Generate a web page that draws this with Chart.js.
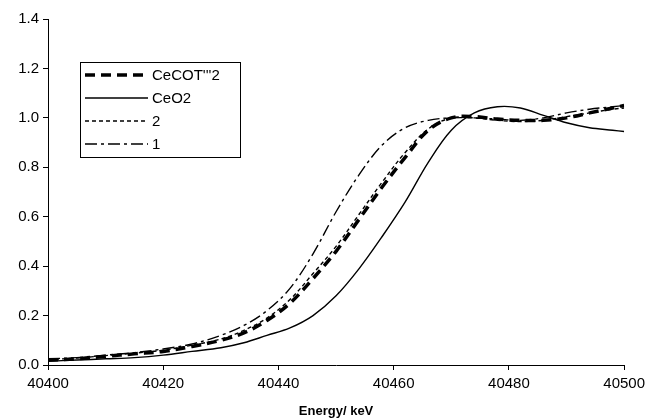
<!DOCTYPE html>
<html>
<head>
<meta charset="utf-8">
<script src="https://cdn.jsdelivr.net/npm/chart.js@4"></script>
<style>
  html, body { margin: 0; padding: 0; background: #fff; }
  #wrap { width: 650px; height: 420px; }
</style>
</head>
<body>
<div id="wrap"><canvas id="chart"></canvas></div>
<script>
// energies in eV (axis reads keV in the original)
const energies = [40400, 40405, 40410, 40415, 40420, 40425, 40430, 40434, 40438, 40442, 40446, 40450,
  40454, 40458, 40462, 40466, 40470, 40474, 40478, 40482, 40486, 40490, 40494, 40498, 40500]

const cecot2 = [0.02, 0.025, 0.035, 0.045, 0.055, 0.075, 0.10, 0.13, 0.18, 0.25, 0.35, 0.46,
  0.59, 0.72, 0.84, 0.95, 1.00, 1.005, 0.995, 0.99, 0.99, 1.00, 1.02, 1.04, 1.05]
const ceo2 = [0.015, 0.02, 0.025, 0.03, 0.04, 0.055, 0.07, 0.09, 0.12, 0.15, 0.20, 0.28,
  0.39, 0.52, 0.66, 0.82, 0.95, 1.02, 1.045, 1.04, 1.01, 0.98, 0.96, 0.95, 0.945]
const series2 = [0.022, 0.028, 0.038, 0.048, 0.06, 0.08, 0.105, 0.14, 0.19, 0.265, 0.37, 0.48,
  0.61, 0.74, 0.86, 0.955, 1.00, 1.00, 0.99, 0.985, 0.99, 1.005, 1.02, 1.035, 1.04]
const series1 = [0.025, 0.03, 0.04, 0.05, 0.065, 0.085, 0.12, 0.16, 0.22, 0.31, 0.45, 0.62,
  0.77, 0.89, 0.96, 0.99, 1.00, 1.00, 0.995, 0.99, 1.00, 1.02, 1.035, 1.045, 1.05]

const seriesNames = ["CeCOT'''2", "CeO2", "2", "1"]
const xTicks = [40400, 40420, 40440, 40460, 40480, 40500]
const yTicks = [0, 0.2, 0.4, 0.6, 0.8, 1.0, 1.2, 1.4]

const pts = (vals) => energies.map((e, i) => ({ x: e, y: vals[i] }))
const FONT = "'Liberation Sans', Arial, sans-serif"

const styles = [
  { borderWidth: 3.5, borderDash: [10, 6] },
  { borderWidth: 1.4, borderDash: [] },
  { borderWidth: 1.4, borderDash: [4, 3] },
  { borderWidth: 1.4, borderDash: [12, 4, 3, 4] },
]

// hand drawn legend box, like the spreadsheet one
const boxLegend = {
  id: "boxLegend",
  afterDraw(chart) {
    const ctx = chart.ctx
    const left = 80, top = 62, w = 160, rowH = 23
    ctx.save()
    ctx.fillStyle = "#fff"
    ctx.fillRect(left, top, w, rowH * 4 + 3)
    ctx.strokeStyle = "#000"
    ctx.lineWidth = 1
    ctx.setLineDash([])
    ctx.strokeRect(left + 0.5, top + 0.5, w, rowH * 4 + 3)
    ctx.font = "15px " + FONT
    ctx.textBaseline = "middle"
    ctx.fillStyle = "#000"
    seriesNames.forEach((name, i) => {
      const y = top + 13 + i * rowH
      ctx.beginPath()
      ctx.lineWidth = styles[i].borderWidth
      ctx.setLineDash(styles[i].borderDash)
      ctx.moveTo(85, y)
      ctx.lineTo(148, y)
      ctx.stroke()
      ctx.setLineDash([])
      ctx.fillText(name, 152, y + 1)
    })
    ctx.restore()
  },
}

const ctx = document.getElementById("chart").getContext("2d")
new Chart(ctx, {
  type: "line",
  data: {
    datasets: [cecot2, ceo2, series2, series1].map((vals, i) => ({
      label: seriesNames[i],
      data: pts(vals),
      borderColor: "#000",
      borderWidth: styles[i].borderWidth,
      borderDash: styles[i].borderDash,
      pointRadius: 0,
      tension: 0.35,
      fill: false,
    })),
  },
  options: {
    responsive: true,
    maintainAspectRatio: false,
    animation: false,
    devicePixelRatio: 1,
    layout: { padding: { top: 19, right: 25, left: 0, bottom: 0 } },
    plugins: { legend: { display: false }, tooltip: { enabled: false } },
    scales: {
      x: {
        type: "linear",
        min: 40400,
        max: 40500,
        afterFit: (s) => { s.height = 55 },
        afterBuildTicks: (s) => { s.ticks = xTicks.map((v) => ({ value: v })) },
        ticks: { color: "#000", font: { family: FONT, size: 15 }, padding: 5, maxRotation: 0, callback: (v) => String(v) },
        grid: { display: true, drawOnChartArea: false, drawTicks: true, tickLength: 5, color: "#000" },
        border: { display: true, color: "#000", width: 1 },
        title: { display: true, text: "Energy/ keV", color: "#000", font: { family: FONT, size: 13, weight: "bold" }, padding: { top: 2, bottom: 1 } },
      },
      y: {
        min: 0,
        max: 1.4,
        afterFit: (s) => { s.width = 48 },
        afterBuildTicks: (s) => { s.ticks = yTicks.map((v) => ({ value: v })) },
        ticks: { color: "#000", font: { family: FONT, size: 15 }, padding: 4, callback: (v) => v.toFixed(1) },
        grid: { display: true, drawOnChartArea: false, drawTicks: true, tickLength: 5, color: "#000" },
        border: { display: true, color: "#000", width: 1 },
      },
    },
  },
  plugins: [boxLegend],
})
</script>
</body>
</html>
